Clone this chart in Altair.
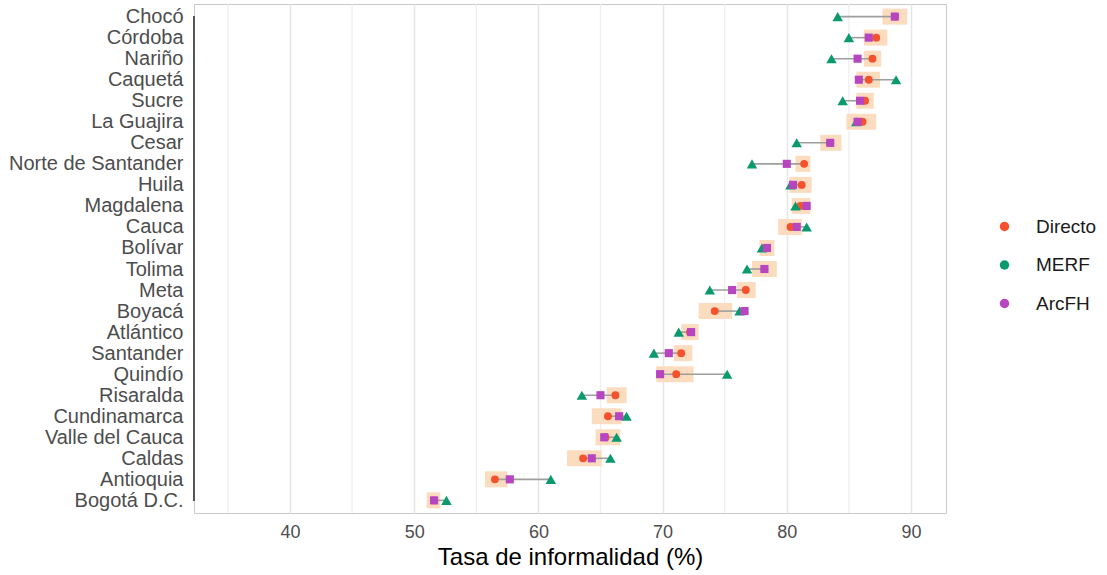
import altair as alt
import pandas as pd

regions = ["Chocó", "Córdoba", "Nariño", "Caquetá", "Sucre", "La Guajira", "Cesar",
           "Norte de Santander", "Huila", "Magdalena", "Cauca", "Bolívar", "Tolima",
           "Meta", "Boyacá", "Atlántico", "Santander", "Quindío", "Risaralda",
           "Cundinamarca", "Valle del Cauca", "Caldas", "Antioquia", "Bogotá D.C."]
directo = [88.7, 87.2, 86.9, 86.6, 86.3, 86.1, 83.5, 81.4, 81.2, 81.1, 80.3, 78.4,
           78.2, 76.7, 74.2, 72.2, 71.5, 71.1, 66.2, 65.6, 65.4, 63.6, 56.5, 51.6]
merf = [84.1, 85.0, 83.6, 88.8, 84.5, 85.6, 80.8, 77.2, 80.3, 80.7, 81.6, 78.0,
        76.8, 73.8, 76.2, 71.3, 69.3, 75.2, 63.5, 67.1, 66.3, 65.8, 61.0, 52.6]
arcfh = [88.7, 86.6, 85.7, 85.8, 85.9, 85.7, 83.5, 80.0, 80.5, 81.6, 80.8, 78.4,
         78.2, 75.6, 76.6, 72.3, 70.5, 69.8, 65.0, 66.5, 65.3, 64.3, 57.7, 51.6]
ci_lo = [87.7, 86.2, 86.2, 85.6, 85.6, 84.8, 82.7, 80.7, 80.2, 80.4, 79.3, 77.8,
         77.2, 76.0, 72.9, 71.5, 70.9, 69.5, 65.5, 64.3, 64.6, 62.3, 55.7, 51.0]
ci_hi = [89.7, 88.1, 87.6, 87.5, 87.0, 87.2, 84.4, 81.9, 82.0, 81.9, 81.2, 79.0,
         79.2, 77.5, 75.6, 72.9, 72.4, 72.5, 67.1, 66.7, 66.6, 65.1, 57.5, 52.1]

series = ["Directo", "MERF", "ArcFH"]
colors = ["#f4512c", "#0b9a6d", "#b845c0"]
x_ticks = [40, 50, 60, 70, 80, 90]
minor_ticks = [35, 45, 55, 65, 75, 85]
x_domain = [32.27, 92.82]
x_title = "Tasa de informalidad (%)"

wide = pd.DataFrame({"region": regions, "Directo": directo, "MERF": merf,
                     "ArcFH": arcfh, "lo": ci_lo, "hi": ci_hi})
wide["vmin"] = wide[series].min(axis=1)
wide["vmax"] = wide[series].max(axis=1)
long = wide.melt(id_vars=["region"], value_vars=series, var_name="serie", value_name="tasa")
minor_df = pd.DataFrame({"v": minor_ticks})

FONT = "Liberation Sans"
xscale = alt.Scale(domain=x_domain, nice=False, zero=False)
xaxis = alt.Axis(values=x_ticks, title=x_title, grid=True, gridColor="#e6e6e6",
                 gridWidth=1.6, ticks=False, domain=False, labelFontSize=18,
                 labelFont=FONT, labelColor="#4d4d4d", labelPadding=10,
                 titleFontSize=24, titleFont=FONT, titleFontWeight="normal",
                 titleColor="#000000", titlePadding=4)
yscale = alt.Scale(type="point", padding=0.6)
yenc = alt.Y("region:N", sort=regions, scale=yscale,
             axis=alt.Axis(title=None, ticks=False, domain=False, grid=False,
                           labelFontSize=20, labelFont=FONT, labelColor="#4d4d4d",
                           labelPadding=11))
cscale = alt.Scale(domain=series, range=colors)
legend = alt.Legend(title=None, orient="none", legendX=801, legendY=213,
                    symbolType="circle", symbolSize=90,
                    labelFontSize=19, labelFont=FONT,
                    labelColor="#1a1a1a", rowPadding=18.5,
                    labelOffset=22, padding=0, symbolStrokeWidth=0)

minor = alt.Chart(minor_df).mark_rule(color="#eeeeee", strokeWidth=1.2).encode(
    x=alt.X("v:Q", scale=xscale, axis=xaxis))

band = alt.Chart(wide).mark_rule(color="#fcdcbf", strokeWidth=16, strokeCap="butt").encode(
    x=alt.X("lo:Q", scale=xscale, axis=xaxis), x2="hi:Q", y=yenc)

rng = alt.Chart(wide).mark_rule(color="#9e9e9e", strokeWidth=1.6).encode(
    x=alt.X("vmin:Q", scale=xscale, axis=xaxis), x2="vmax:Q", y=yenc)

shape_of = {"Directo": ("circle", 62), "MERF": ("triangle-up", 110), "ArcFH": ("square", 66)}
pt_layers = []
for s in series:
    shp, sz = shape_of[s]
    pt_layers.append(
        alt.Chart(long).transform_filter(alt.datum.serie == s)
        .mark_point(filled=True, opacity=1, shape=shp, size=sz)
        .encode(x=alt.X("tasa:Q", scale=xscale, axis=xaxis), y=yenc,
                color=alt.Color("serie:N", scale=cscale, legend=legend))
    )

axis_line = alt.Chart(wide).mark_rule(color="#555555", strokeWidth=2).encode(
    x=alt.value(0), y=alt.datum(regions[0]), y2=alt.datum(regions[-1]))

chart = alt.layer(minor, band, rng, *pt_layers, axis_line).properties(
    width=752, height=509,
    autosize=alt.AutoSizeParams(type="none"),
    padding={"left": 194, "top": 4, "right": 161, "bottom": 62},
    background="white",
).configure_view(stroke="#c9c9c9", strokeWidth=1)

chart.save("out.html", embed_options={"renderer": "svg", "actions": False})
